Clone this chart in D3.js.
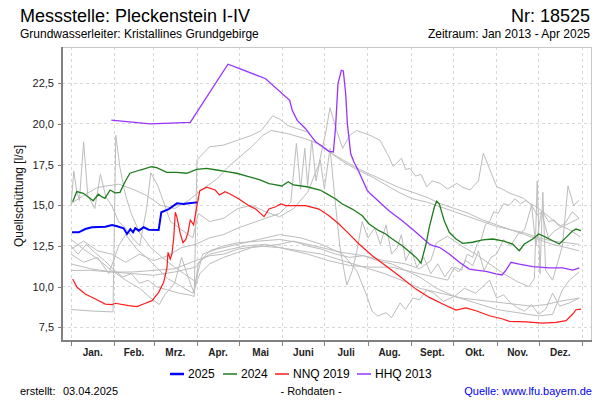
<!DOCTYPE html>
<html><head><meta charset="utf-8">
<script src="https://cdn.jsdelivr.net/npm/d3@7"></script>
<style>body{margin:0;background:#fff}svg{display:block;font-family:"Liberation Sans",Arial,sans-serif}</style>
</head><body><svg id="c" width="600" height="400"></svg>
<script>
// ---- data (day of year, 0 = 1 Jan; value in l/s) ----
const monthStarts = [0,31,59,90,120,151,181,212,243,273,304,334,365];
const monthLabels = ["Jan.","Feb.","Mrz.","Apr.","Mai","Juni","Juli","Aug.","Sept.","Okt.","Nov.","Dez."];
const yTicks = [7.5,10,12.5,15,17.5,20,22.5];

const s2025 = [[0.7,13.34],[5.5,13.34],[10.2,13.54],[15,13.65],[24.5,13.68],[29.3,13.79],[32.9,13.71],[37.6,13.59],[40,13.24],[42.4,13.54],[44.3,13.34],[45.9,13.59],[48.4,13.44],[51.9,13.65],[55.5,13.5],[62.6,13.48],[64.5,14.57],[69.8,14.77],[73.4,14.98],[75.7,15.12],[80.5,15.08],[84.1,15.12],[90,15.18]];

const s2024 = [[1.2,15.22],[4.1,15.84],[8.8,15.74],[15.9,15.28],[19.5,15.68],[21.9,15.53],[24.3,15.43],[27.9,15.94],[31.4,15.77],[35,15.8],[38.6,16.45],[42.1,16.97],[49.3,17.17],[57.6,17.37],[61.2,17.31],[68.4,17.03],[75.5,17.03],[82.6,16.97],[89.8,17.21],[96.9,17.27],[104.1,17.17],[111.2,17.07],[118.4,16.97],[125.5,16.8],[132,16.64],[135,16.56],[141.4,16.33],[144.5,16.29],[150.5,16.19],[155.2,16.45],[158.8,16.25],[168.4,16.14],[177.9,15.94],[183.1,15.69],[189.1,15.39],[193.8,15.08],[200.9,14.77],[208.1,14.36],[212.9,13.85],[220,13.44],[224.8,13.24],[229.5,12.93],[236.6,12.52],[246.4,11.8],[250,11.45],[253.6,12.62],[255.9,13.65],[259.5,14.88],[261.2,15.25],[263.1,15.08],[266.6,14.05],[270.2,13.34],[275,12.93],[279.8,12.66],[286.9,12.73],[294.1,12.87],[301.2,12.93],[308.4,12.82],[315.5,12.62],[320.2,12.21],[323.8,12.62],[329.8,12.93],[334.1,13.24],[339.3,13.03],[344.1,12.82],[348.8,12.62],[353.6,13.03],[358.4,13.44],[360.7,13.54],[364.3,13.44]];

const nnq2019 = [[1.2,10.47],[4.3,9.96],[10.2,9.55],[17.4,9.24],[24.5,8.93],[29.3,8.89],[31.6,8.98],[41.2,8.83],[47.1,8.77],[53.1,8.98],[57.9,9.14],[62.6,9.65],[66.2,10.27],[68.6,11.19],[69.3,12.11],[70.9,11.7],[72.1,12.01],[73.4,13.03],[74.5,14.57],[75.7,14.26],[78.1,13.24],[80,12.7],[82,12.9],[83.6,13.34],[85.2,14.1],[87.6,13.8],[90,15.0],[92,15.9],[97,16.11],[103,15.94],[106,15.63],[110,15.84],[113.6,15.7],[120,15.39],[127.1,14.98],[131.9,14.77],[137.9,14.3],[141.4,14.77],[146.2,14.91],[149.8,15.08],[153.4,14.98],[160.5,14.98],[167.6,14.98],[177.1,14.77],[184.3,14.36],[191.4,13.85],[198.6,13.24],[205.7,12.62],[215.2,11.9],[224.8,11.29],[234.3,10.67],[246.4,9.85],[255.9,9.34],[265.5,8.93],[275,8.56],[282.1,8.69],[289.3,8.52],[298.8,8.21],[308.4,8.01],[313.1,7.87],[325,7.84],[336.9,7.76],[346.4,7.81],[353.6,7.91],[358.4,8.32],[360.7,8.58],[364.3,8.62]];

const hhq2013 = [[28.8,20.24],[56.6,20.0],[85.2,20.1],[112.1,23.67],[120,23.42],[139,22.78],[156.2,21.45],[158,20.84],[161.6,20.22],[167.6,19.71],[174.8,18.89],[178.4,18.69],[184.3,18.32],[187.4,18.28],[189,19.81],[190.7,22.48],[193.1,23.3],[194.5,23.26],[196.2,21.86],[197.4,20.02],[199.8,18.17],[202.1,17.66],[205.7,17.05],[211.6,15.92],[214.1,15.69],[227.1,14.67],[236.6,14.05],[246.4,13.35],[255.9,12.62],[258.4,12.52],[263.1,12.42],[270.2,12.01],[277.4,11.5],[284.5,11.08],[289.3,11.02],[296.4,10.94],[303.6,10.78],[307.9,10.72],[310.7,11.02],[314.3,11.5],[320.2,11.39],[329.8,11.23],[341.6,11.15],[351.2,11.15],[358.4,11.02],[363.1,11.15]];

// other years (grey)
const greyA = [[0,8.6],[15,8.5],[30,8.45],[32,19.3],[35,17.3],[39,15.6],[43,14.5],[49,13.3],[57,12.4],[65,11.8],[74,11.2],[84,10.6],[89,10.3],[94,12.0],[104,12.3],[119,12.6],[134,12.9],[149,13.2],[164,13.0],[179,12.6],[194,12.0],[204,11.0],[211,9.5],[215,8.5],[219,8.2],[225,8.4],[229,8.1],[235,9.0],[239,8.6],[244,9.3],[249,9.2],[254,9.8],[259,9.6],[266,9.1],[274,9.4],[281,9.9],[289,9.6],[299,10.4],[304,9.3],[309,9.5],[314,9.0],[319,8.7],[324,8.5],[329,8.9],[334,8.3],[339,8.6],[344,9.6],[349,8.8],[356,9.0],[363,9.3]];
const greyB = [[0,12.5],[5,12.0],[11,12.6],[17,12.1],[24,11.6],[31,11.0],[37,10.6],[43,10.8],[49,10.2],[55,10.4],[61,10.0],[69,9.8],[77,9.6],[84,9.5],[88,9.4],[90,17.8],[99,18.6],[109,18.7],[119,19.0],[129,19.3],[136,19.6],[144,20.5],[149,20.3],[155,19.9],[162,19.7],[169,19.5],[176,18.8],[184,18.3],[194,17.8],[204,17.3],[214,16.9],[224,16.5],[234,16.1],[244,15.8],[254,15.5],[264,15.1],[274,14.8],[284,14.5],[294,14.1],[304,13.8],[314,13.5],[324,13.2],[334,12.9],[344,12.6],[354,12.4],[363,12.2]];
const greyC = [[0,15.1],[9,15.6],[19,16.1],[34,16.3],[44,16.0],[54,15.6],[64,15.0],[74,14.8],[84,15.3],[94,16.0],[104,16.6],[114,17.5],[121,18.0],[129,18.6],[137,19.3],[143,19.6],[155,19.4],[167,19.1],[176,18.8],[186,18.2],[194,17.7],[204,17.2],[214,16.8],[224,16.3],[234,15.8],[244,15.4],[254,15.2],[264,14.9],[274,14.6],[284,14.3],[294,14.0],[304,13.7],[314,13.5],[324,13.3],[334,13.0],[344,12.8],[354,12.7],[363,12.6]];
const greyD = [[0,15.0],[2,17.1],[4,15.9],[6,15.3],[9,18.9],[12,15.6],[17,14.8],[21,16.9],[25,15.5],[29,15.0],[34,14.0],[39,13.6],[44,13.0],[49,12.5],[54,14.8],[57,17.0],[62,16.2],[67,15.0],[71,14.0],[79,13.5],[87,13.0],[91,14.5],[99,14.0],[109,14.2],[119,14.8],[129,15.0],[139,14.6],[149,14.3],[159,14.8],[169,15.8],[177,17.5],[182,19.5],[185,21.0],[189,19.8],[194,18.5],[199,19.3],[204,19.6],[213.6,19.3],[220.7,19.0],[227,18.0],[230,17.4],[232.6,17.58],[236,17.9],[239,17.2],[242.1,17.27],[246,16.8],[250,16.9],[254.1,16.14],[258,16.5],[263.6,16.35],[269,16.0],[275.5,16.35],[280,16.1],[285,15.94],[291,16.5],[294.5,18.2],[299.3,17.17],[304.1,16.14],[308,16.0],[313.6,15.74],[318,15.6],[323.1,15.43],[328,15.1],[332.6,14.91],[340,14.4],[346.9,13.89],[351,13.7],[356.4,13.48],[363.6,13.07]];
const greyE = [[0,12.3],[9,12.8],[19,12.2],[29,12.0],[39,11.5],[49,12.0],[59,11.6],[69,11.9],[79,12.4],[89,12.6],[99,13.0],[109,13.2],[119,13.6],[129,13.9],[139,14.2],[149,14.5],[157,15.2],[161,18.8],[164,16.0],[167,18.5],[169,16.2],[172,19.0],[175,16.5],[178,17.8],[181,16.0],[185,18.5],[189,15.0],[192,12.5],[195,11.0],[197,10.1],[201,11.0],[204,12.1],[208,14.0],[212,13.0],[217,13.6],[221,12.6],[225,13.8],[229,12.0],[233,12.4],[236,13.2],[239,11.6],[243,12.3],[247,11.2],[252,11.8],[257,10.8],[262,11.4],[267,10.6],[272,11.2],[277,10.9],[282,11.6],[287,11.3],[291,12.2],[295,11.0],[300,11.8],[304,12.0],[309,12.9],[314,12.5],[319,13.2],[324,13.5],[329,15.0],[332,12.5],[336,14.6],[341,13.0],[345,13.4],[349,13.6],[356,13.9],[363,14.2]];
const greyF = [[0,11.0],[14,11.0],[30,10.9],[44,10.8],[59,10.7],[74,10.9],[89,11.2],[99,12.2],[109,12.5],[119,12.7],[134,12.8],[149,12.9],[164,12.7],[179,12.4],[194,12.1],[209,11.9],[224,11.6],[239,11.4],[249,11.1],[257,11.6],[261,12.7],[269,13.1],[279,12.5],[289,12.0],[299,11.4],[309,10.8],[319,10.3],[327,10.0],[331,10.5],[333,16.5],[335,10.8],[337,15.8],[339,11.0],[344,10.4],[351,12.5],[355,16.2],[359,15.0],[363,15.3]];
const greyG = [[0,12.9],[9,12.3],[19,11.7],[29,11.0],[39,10.4],[49,9.9],[57,9.3],[63,8.9],[67,9.5],[74,10.2],[79,11.8],[84,10.5],[88,9.6],[91,11.5],[99,12.0],[109,12.2],[124,12.5],[139,12.6],[154,12.3],[169,12.0],[184,11.6],[199,11.3],[214,11.2],[229,11.2],[239,11.0],[249,10.6],[261,9.9],[274,9.4],[289,9.0],[304,8.6],[319,8.4],[334,8.2],[344,8.3],[351,9.8],[356,10.4],[363,10.9]];
const greyH = [[0,11.4],[14,11.1],[29,10.9],[44,10.9],[59,11.0],[74,11.1],[89,11.6],[99,11.9],[109,12.0],[119,12.3],[134,12.5],[149,12.4],[164,12.2],[179,12.0],[194,11.6],[209,11.2],[224,10.8],[239,10.3],[249,9.9],[259,9.7],[269,9.5],[279,9.3],[289,9.2],[299,9.1],[309,9.0],[319,8.9],[329,8.8],[339,8.9],[349,9.1],[363,9.3]];
const greyI = [[0,12.0],[9,11.5],[19,11.8],[27,10.8],[34,12.5],[39,13.2],[47,12.3],[54,11.8],[61,11.2],[69,10.5],[79,10.0],[87,9.6],[92,10.8],[99,11.4],[109,11.8],[119,12.1],[129,12.4],[139,12.5],[149,12.6],[159,12.8],[169,12.5],[179,12.3],[189,12.0],[199,11.8],[209,11.9],[219,11.6],[229,11.4],[239,11.0],[249,10.8],[259,10.6],[269,10.4],[274,11.2],[279,11.0],[283,12.0],[287,11.8],[290,12.6],[293,12.9],[296,13.8],[299,14.0],[302,14.6],[305,14.5],[309,15.1],[313,15.0],[317,15.4],[321,15.1],[325,15.3],[329,15.0],[333,14.4],[337,14.6],[341,14.0],[345,14.1],[349,13.7],[353,13.9],[358,14.6],[363,14.2]];
const greySeries = [greyA, greyB, greyC, greyD, greyE, greyF, greyG, greyH, greyI];

const legendLabels = ["2025","2024","NNQ 2019","HHQ 2013"];
const legendColors = ["#0000ff","#1c7c1c","#ff1a1a","#9933ff"];

// ---- drawing ----
const svg = d3.select("#c");
const L = 62, R = 592, T = 47, B = 341;
const x = d3.scaleLinear().domain([-6.43, 372.14]).range([L, R]);
const y = d3.scaleLinear().domain([6.66, 24.73]).range([B, T]);
const fmt = v => d3.format(".1f")(v).replace(".", ",");

// grid
const g = svg.append("g");
g.selectAll(".gy").data(yTicks).join("line")
  .attr("x1", L).attr("x2", R).attr("y1", d => y(d)).attr("y2", d => y(d))
  .attr("stroke", "#d8d8d8").attr("stroke-dasharray", "3,3").attr("shape-rendering","crispEdges");
g.selectAll(".gx").data(monthStarts).join("line")
  .attr("x1", d => x(d)).attr("x2", d => x(d)).attr("y1", T).attr("y2", B)
  .attr("stroke", "#d8d8d8").attr("stroke-dasharray", "3,3").attr("shape-rendering","crispEdges");

// frame (top/right light)
svg.append("line").attr("x1", L).attr("x2", R).attr("y1", T + 0.5).attr("y2", T + 0.5).attr("stroke", "#c8c8c8");
svg.append("line").attr("x1", R - 0.5).attr("x2", R - 0.5).attr("y1", T).attr("y2", B).attr("stroke", "#c8c8c8");

const line = d3.line().x(d => x(d[0])).y(d => y(d[1]));
const plot = svg.append("g");
plot.selectAll(".grey").data(greySeries).join("path")
  .attr("d", line).attr("fill", "none").attr("stroke", "#bcbcbc").attr("stroke-width", 1);

plot.append("path").datum(hhq2013).attr("d", line).attr("fill","none").attr("stroke", legendColors[3]).attr("stroke-width", 1.3);
plot.append("path").datum(nnq2019).attr("d", line).attr("fill","none").attr("stroke", legendColors[2]).attr("stroke-width", 1.2);
plot.append("path").datum(s2024).attr("d", line).attr("fill","none").attr("stroke", legendColors[1]).attr("stroke-width", 1.3);
plot.append("path").datum(s2025).attr("d", line).attr("fill","none").attr("stroke", legendColors[0]).attr("stroke-width", 2);

// axes
svg.append("line").attr("x1", L).attr("x2", L).attr("y1", T).attr("y2", B + 1).attr("stroke", "#808080").attr("stroke-width", 2);
svg.append("line").attr("x1", L).attr("x2", R).attr("y1", B).attr("y2", B).attr("stroke", "#808080").attr("stroke-width", 2);
svg.selectAll(".xt").data(monthStarts).join("line")
  .attr("x1", d => Math.round(x(d)) + 0.5).attr("x2", d => Math.round(x(d)) + 0.5).attr("y1", B).attr("y2", B + 5)
  .attr("stroke", "#808080");
svg.selectAll(".yt").data(yTicks).join("line")
  .attr("x1", L - 4).attr("x2", L).attr("y1", d => Math.round(y(d)) + 0.5).attr("y2", d => Math.round(y(d)) + 0.5)
  .attr("stroke", "#808080");
svg.selectAll(".yl").data(yTicks).join("text")
  .attr("x", 54).attr("y", d => y(d) + 4).attr("text-anchor", "end")
  .attr("font-size", 11).attr("fill", "#222").text(fmt);
svg.selectAll(".xl").data(monthLabels).join("text")
  .attr("x", (d, i) => (x(monthStarts[i]) + x(monthStarts[i + 1])) / 2).attr("y", 356)
  .attr("text-anchor", "middle").attr("font-size", 10).attr("font-weight", "bold").attr("fill", "#222").text(d => d);

svg.append("text").attr("transform", "translate(23,196) rotate(-90)").attr("text-anchor", "middle")
  .attr("font-size", 12).attr("fill", "#111").text("Quellschüttung [l/s]");

// titles
svg.append("text").attr("x", 20).attr("y", 22).attr("font-size", 18).attr("fill", "#000").text("Messstelle: Pleckenstein I-IV");
svg.append("text").attr("x", 590).attr("y", 22).attr("text-anchor", "end").attr("font-size", 18).attr("fill", "#000").text("Nr: 18525");
svg.append("text").attr("x", 20).attr("y", 38).attr("font-size", 12).attr("fill", "#000").text("Grundwasserleiter: Kristallines Grundgebirge");
svg.append("text").attr("x", 590).attr("y", 38).attr("text-anchor", "end").attr("font-size", 12).attr("fill", "#000").text("Zeitraum: Jan 2013 - Apr 2025");

// legend
const legX = [170, 223, 275, 357];
const lg = svg.append("g");
legendLabels.forEach((lab, i) => {
  lg.append("line").attr("x1", legX[i]).attr("x2", legX[i] + 14).attr("y1", 374).attr("y2", 374)
    .attr("stroke", legendColors[i]).attr("stroke-width", i === 0 ? 2.5 : 1.5);
  lg.append("text").attr("x", legX[i] + 18).attr("y", 378).attr("font-size", 12).attr("fill", "#000").text(lab);
});

// footer
svg.append("text").attr("x", 20).attr("y", 395).attr("font-size", 11).attr("fill", "#000").text("erstellt:");
svg.append("text").attr("x", 63).attr("y", 395).attr("font-size", 11).attr("fill", "#000").text("03.04.2025");
svg.append("text").attr("x", 311).attr("y", 395).attr("text-anchor", "middle").attr("font-size", 11).attr("fill", "#000").text("- Rohdaten -");
svg.append("text").attr("x", 592).attr("y", 395).attr("text-anchor", "end").attr("font-size", 11).attr("fill", "#0000ee").text("Quelle: www.lfu.bayern.de");
</script></body></html>
